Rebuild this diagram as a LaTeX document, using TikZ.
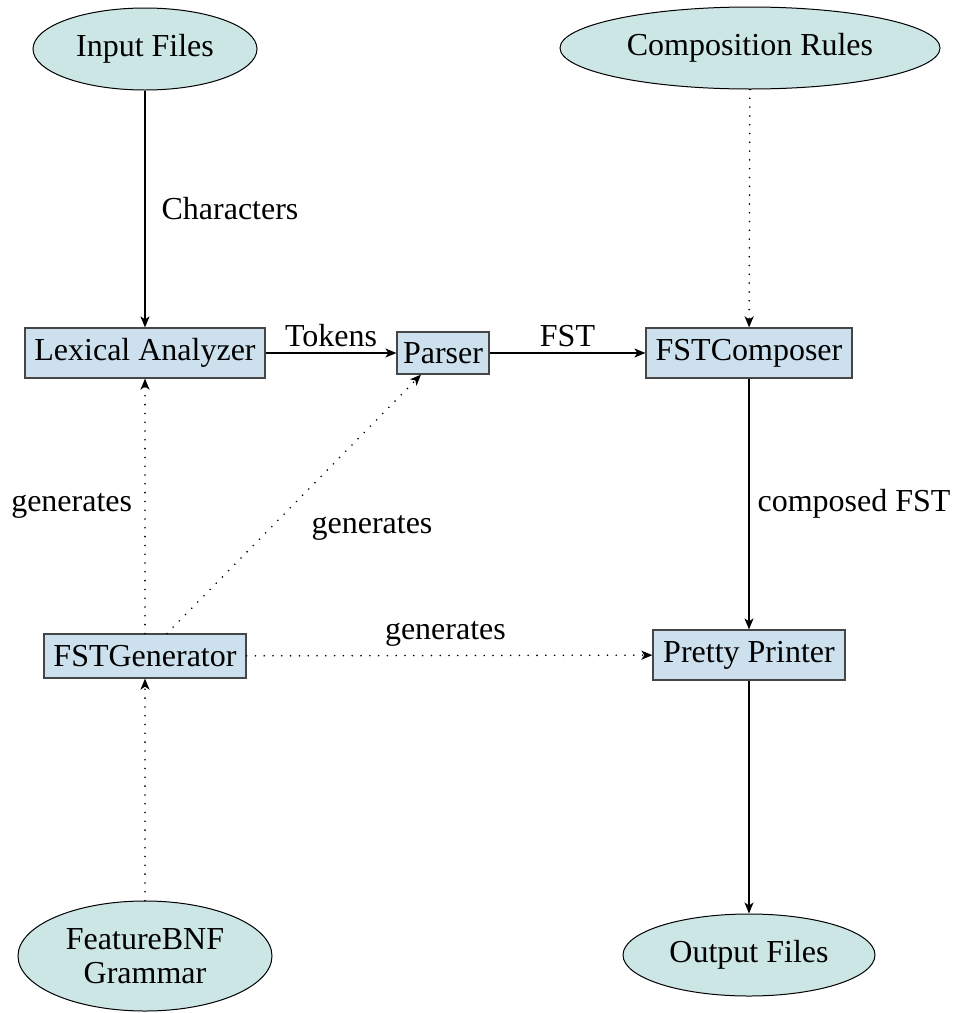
\documentclass[tikz,border=0pt]{standalone}
\usepackage{fontspec}
\setmainfont{Liberation Serif}
\usetikzlibrary{shapes.geometric,arrows.meta,positioning}
\definecolor{boxfill}{RGB}{204,224,238}
\definecolor{ellfill}{RGB}{204,229,229}
\definecolor{boxdraw}{RGB}{70,70,70}
\begin{document}
\begin{tikzpicture}[x=0.5pt,y=-0.5pt,
  font=\fontsize{16}{18}\selectfont,
  proc/.style={rectangle,draw=boxdraw,fill=boxfill,line width=0.6pt,inner sep=0pt,minimum height=25pt},
  term/.style={ellipse,draw=black,fill=ellfill,line width=0.5pt,inner sep=0pt,minimum height=41pt},
  flow/.style={-{Stealth[length=5.5pt,width=4.5pt,inset=1.5pt]},line width=0.6pt},
  gen/.style={flow,line width=0.9pt,line cap=round,dash pattern=on 0pt off 4.4pt},
  lbl/.style={inner sep=2pt}]
\useasboundingbox (0,0) rectangle (958,1013);
\node[term,minimum width=112pt] (inp) at (145,49) {Input Files};
\node[term,minimum width=190pt] (comp) at (750,48) {Composition Rules};
\node[proc,minimum width=120pt] (lex) at (145,353) {Lexical Analyzer};
\node[proc,minimum width=46pt,minimum height=21pt] (par) at (443,353) {Parser};
\node[proc,minimum width=103pt] (fstc) at (749,353) {FSTComposer};
\node[proc,minimum width=101pt,minimum height=22pt] (fstg) at (145,656) {FSTGenerator};
\node[proc,minimum width=96pt] (pp) at (749,655) {Pretty Printer};
\node[term,minimum width=127pt,minimum height=55pt,align=center,font=\fontsize{16}{17}\selectfont] (bnf) at (145,956) {FeatureBNF\\Grammar};
\node[term,minimum width=126pt] (out) at (749,955) {Output Files};

\draw[flow] (inp) -- node[lbl,right=6pt] {Characters} (lex);
\draw[gen] (comp) -- (fstc);
\draw[flow] (lex) -- node[lbl,above=1pt] {Tokens} (par);
\draw[flow] (par) -- node[lbl,above=1pt] {FST} (fstc);
\draw[flow] (fstc) -- node[lbl,right=2pt] {composed FST} (pp);
\draw[flow] (pp) -- (out);
\draw[gen] (fstg) -- node[lbl,left=4pt] {generates} (lex);
\draw[gen] ([xshift=11pt]fstg.north) -- node[lbl,pos=0.55,below right=10pt and 0pt] {generates} ([xshift=-11pt]par.south);
\draw[gen] (fstg) -- node[lbl,above=2pt,pos=0.49] {generates} (pp);
\draw[gen] (bnf) -- (fstg);
\end{tikzpicture}
\end{document}
